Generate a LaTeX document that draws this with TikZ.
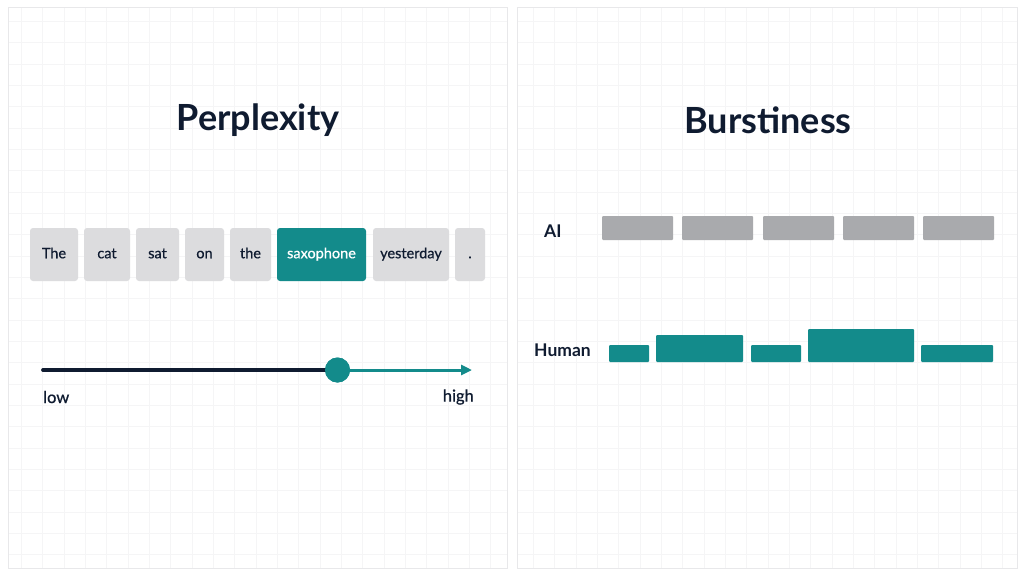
\documentclass[tikz,border=0pt]{standalone}
\usepackage{fontspec}
\setmainfont{Lato}
\usetikzlibrary{arrows.meta}
\definecolor{navy}{HTML}{0F1B30}
\definecolor{teal}{HTML}{138B8B}
\definecolor{tokgray}{HTML}{DCDCDE}
\definecolor{bargray}{HTML}{A9AAAD}
\definecolor{gridc}{HTML}{F5F5F6}
\definecolor{panelb}{HTML}{E8E8EA}
\newfontfamily\medfont[FakeBold=0.6]{Lato}
\begin{document}
\begin{tikzpicture}[x=1pt,y=-1pt,
  panel/.style={draw=panelb,line width=1pt,fill=none},
  title/.style={font=\fontsize{36}{42}\selectfont\bfseries,text=navy,inner sep=0pt},
  tok/.style={fill=tokgray,rounded corners=3pt,inner sep=0pt,font=\medfont\fontsize{14.5}{17}\selectfont,text=navy,text height=10.5pt,text depth=3pt},
  tokhi/.style={tok,fill=teal,text=white},
  lbl/.style={font=\medfont\fontsize{16.5}{19}\selectfont,text=navy,inner sep=0pt},
  rowlbl/.style={font=\fontsize{17.5}{20}\selectfont\bfseries,text=navy,inner sep=0pt},
  aibar/.style={fill=bargray,draw=none},
  hubar/.style={fill=teal,draw=none}]
\useasboundingbox (0,0) rectangle (1024,576);
\fill[white] (0,0) rectangle (1024,576);
% grids
\begin{scope}
\clip (8,7) rectangle (507,568);
\draw[gridc,line width=0.5pt,step=21.333pt] (0,0) grid (1024,576);
\end{scope}
\begin{scope}
\clip (517,7) rectangle (1017,568);
\draw[gridc,line width=0.5pt,step=21.333pt] (0,0) grid (1024,576);
\end{scope}
\draw[panel] (8,7) rectangle (507,568);
\draw[panel] (517,7) rectangle (1017,568);
% titles
\node[title] (t1) at (258,120) {Perplexity};
\node[title] (t2) at (768,120) {Burstiness};
% tokens
\foreach \n/\a/\b/\txt/\st in {k1/30/78/The/tok,k2/84/130/cat/tok,k3/136/179/sat/tok,k4/185/224/on/tok,k5/230/271/the/tok,k6/277/366/saxophone/tokhi,k7/373/449/yesterday/tok,k8/455/485/./tok}{
  \node[\st,minimum width={(\b-\a)*1pt},minimum height=53pt] (\n) at ({(\a+\b)/2},254.5) {\txt};
}
% slider
\coordinate (s0) at (43,370);
\coordinate (s1) at (472,370);
\node[circle,fill=teal,minimum size=25pt,inner sep=0pt] (knob) at (337.5,370) {};
\draw[teal,line width=3pt,-{Triangle[length=11pt,width=10pt]}] (knob.center) -- (s1);
\draw[navy,line width=3.8pt,line cap=round] (s0) -- (knob.center);
\node[circle,fill=teal,minimum size=25pt,inner sep=0pt] at (knob) {};
\node[lbl,anchor=west] (low) at (43,397) {low};
\node[lbl,anchor=east] (high) at (474,397) {high};
% right panel
\node[rowlbl,anchor=west] (ai) at (544,231) {AI};
\node[rowlbl,anchor=west] (hum) at (534,350) {Human};
\foreach \a/\b in {602/673,682/753,763/834,843/914,923/994}{
  \fill[aibar,rounded corners=1pt] (\a,216) rectangle (\b,240);
}
\foreach \a/\b/\t in {609/649/345,656/743/335,751/801/345,808/914/329,921/993/345}{
  \fill[hubar,rounded corners=1pt] (\a,\t) rectangle (\b,362);
}
\end{tikzpicture}
\end{document}
